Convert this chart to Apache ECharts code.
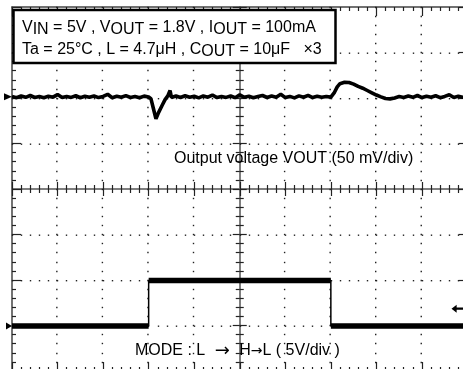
<!DOCTYPE html>
<html>
<head>
<meta charset="utf-8">
<script src="https://cdn.jsdelivr.net/npm/echarts@6/dist/echarts.min.js"></script>
<style>
  html, body { margin: 0; padding: 0; background: #fff; }
  #scope { width: 463px; height: 369px; }
</style>
</head>
<body>
<div id="scope"></div>
<script>
// Screen: 10 horizontal divisions (-5..5), 8 vertical divisions (-4..4)
const CH1_POS = 2.025;   // VOUT ground marker, div
const CH1_SCALE = 50;    // mV/div
const CH2_POS = -3.01;   // MODE ground marker, div
const CH2_SCALE = 5;     // V/div
const TRIG_LEVEL = 1.9;  // trigger level on MODE, V

// Output voltage deviation (mV) against time (div)
const voutTime = [
  -5.0, -4.9, -4.8, -4.7, -4.6, -4.5, -4.4, -4.3, -4.2, -4.1,
  -4.0, -3.9, -3.8, -3.7, -3.6, -3.5, -3.4, -3.3, -3.2, -3.1,
  -3.0, -2.9, -2.8, -2.7, -2.6, -2.5, -2.4, -2.3, -2.2, -2.1,
  -2.0, -1.95, -1.9, -1.84, -1.78, -1.7, -1.64, -1.58, -1.53, -1.5,
  -1.4, -1.3, -1.2, -1.1, -1.0, -0.9, -0.8, -0.7, -0.6, -0.5,
  -0.4, -0.3, -0.2, -0.1, 0.0, 0.1, 0.2, 0.3, 0.4, 0.5,
  0.6, 0.7, 0.8, 0.9, 1.0, 1.1, 1.2, 1.3, 1.4, 1.5,
  1.6, 1.7, 1.8, 1.9, 2.0, 2.02, 2.08, 2.14, 2.2, 2.3,
  2.4, 2.5, 2.6, 2.7, 2.8, 2.9, 3.0, 3.1, 3.2, 3.3,
  3.4, 3.5, 3.6, 3.7, 3.8, 3.9, 4.0, 4.1, 4.2, 4.3,
  4.4, 4.5, 4.6, 4.7, 4.8, 4.9, 5.0
];
const voutMv = [
  0.3, -0.9, 1.0, -0.5, 1.5, -0.7, 0.4, -1.0, 0.8, -0.3,
  2.5, -0.8, 0.5, -0.6, 1.2, -1.0, 0.7, -0.4, 1.0, -0.8,
  0.5, 2.8, -0.9, 0.7, -0.5, 1.3, -0.7, 0.4, -1.0, 0.8,
  -0.2, -2.0, -12.0, -24.0, -17.0, -9.0, -3.0, 1.0, 7.0, -0.6,
  0.9, -0.7, 1.2, -0.4, 0.6, -1.1, 1.0, -0.3, 2.0, -0.8,
  0.5, -0.6, 1.0, -0.9, 2.2, -0.5, 0.7, -1.0, 0.4, 1.5,
  -0.7, 0.9, -0.4, 2.8, -0.8, 0.5, -1.1, 1.1, -0.4, 1.6,
  -0.8, 0.6, -0.5, 0.4, -0.3, 0.0, 5.0, 11.0, 14.5, 16.0,
  15.8, 14.0, 11.5, 9.5, 7.0, 4.5, 2.0, 0.0, -1.8, -2.2,
  -1.2, 0.3, -0.6, 0.9, -0.5, 1.5, -0.8, 0.7, -0.4, 1.2,
  -0.9, 0.5, 2.3, -0.7, 0.8, -0.4, 0.6
];

// MODE control signal (V) against time (div)
const modeTime = [-5, -2, -2, 2, 2, 5];
const modeVolt = [0, 0, 5, 5, 0, 0];

const voutData = voutTime.map((t, i) => [t, CH1_POS + voutMv[i] / CH1_SCALE]);
const modeData = modeTime.map((t, i) => [t, CH2_POS + modeVolt[i] / CH2_SCALE]);
// horizontal levels only (edges are drawn thin by the full trace)
const modeLevels = [];
modeData.forEach((p, i) => {
  if (i > 0 && modeTime[i] === modeTime[i - 1]) modeLevels.push([p[0], '-']);
  modeLevels.push(p);
});

const FONT = "'Liberation Sans', Arial, sans-serif";
const ARROW_FONT = "'DejaVu Sans', sans-serif";
const DIV_X = 45.55;   // px per horizontal division
const DIV_Y = 45.5;    // px per vertical division

function tickStyle() { return { color: '#222', width: 1.2 }; }
// border and centre scales with major/minor ticks
function axisBase(dimMin, dimMax, position, onZero, inside, len, minorLen, lineColor) {
  return {
    type: 'value', min: dimMin, max: dimMax, interval: 1, position: position,
    axisLine: { show: true, onZero: onZero, onZeroAxisIndex: 0, lineStyle: { color: lineColor, width: 1.5 } },
    axisTick: { show: true, inside: inside, length: len, lineStyle: tickStyle() },
    minorTick: { show: true, splitNumber: 5, length: minorLen, lineStyle: tickStyle() },
    axisLabel: { show: false },
    splitLine: { show: false }
  };
}
// one dotted graticule line: an unlined axis whose ticks are single dots every 0.2 div
function dotAxis(dimMin, dimMax, position, offset) {
  const dot = { color: '#222', width: 1.4 };
  return {
    type: 'value', min: dimMin, max: dimMax, interval: 1, position: position, offset: offset,
    axisLine: { show: false, onZero: false },
    axisTick: { show: true, inside: false, length: 1.4, lineStyle: dot },
    minorTick: { show: true, splitNumber: 5, length: 1.4, lineStyle: dot },
    axisLabel: { show: false },
    splitLine: { show: false }
  };
}
// rows counted up from the bottom border, columns counted right from the left border
const rowDots = [1, 2, 3, 5, 6, 7].map(k => dotAxis(-5, 5, 'bottom', -DIV_Y * k));
const colDots = [1, 2, 3, 4, 6, 7, 8, 9].map(k => dotAxis(-4, 4, 'left', -DIV_X * k));

const chart = echarts.init(document.getElementById('scope'), null, { renderer: 'canvas' });
chart.setOption({
  animation: false,
  backgroundColor: '#fff',
  grid: { left: 12, top: 7, width: 455.5, height: 364, outerBoundsMode: 'none' },
  xAxis: [
    axisBase(-5, 5, 'bottom', false, true, 9, 4, '#444'),
    axisBase(-5, 5, 'top', false, true, 9, 4, '#444'),
    axisBase(-5, 5, 'bottom', true, true, 7, 4, '#777'),
    axisBase(-5, 5, 'bottom', true, false, 7, 4, '#777')
  ].concat(rowDots),
  yAxis: [
    axisBase(-4, 4, 'left', false, true, 9, 4, '#444'),
    axisBase(-4, 4, 'right', false, true, 9, 4, '#444'),
    axisBase(-4, 4, 'left', true, true, 7, 4, '#777'),
    axisBase(-4, 4, 'left', true, false, 7, 4, '#777')
  ].concat(colDots),
  series: [
    {
      name: 'VOUT', type: 'line', data: voutData, symbol: 'none', z: 5,
      lineStyle: { color: '#000', width: 3.6 },
      markPoint: {
        symbol: 'triangle', symbolRotate: -90, symbolSize: [7, 8], symbolOffset: [-4, 0],
        itemStyle: { color: '#000' }, label: { show: false },
        data: [{ coord: [-5, CH1_POS] }]
      }
    },
    {
      name: 'MODE', type: 'line', data: modeData, symbol: 'none', z: 5,
      lineStyle: { color: '#000', width: 1.5 },
      markPoint: {
        symbol: 'triangle', symbolRotate: -90, symbolSize: [7, 6], symbolOffset: [-3, 0],
        itemStyle: { color: '#000' }, label: { show: false },
        data: [{ coord: [-5, CH2_POS] }]
      }
    },
    {
      name: 'MODE level', type: 'line', data: modeLevels, symbol: 'none', z: 5,
      connectNulls: false,
      lineStyle: { color: '#000', width: 5.5 },
      markPoint: {
        symbol: 'path://M0,5 L6,0 L6,3.5 L14,3.5 L14,6.5 L6,6.5 L6,10 Z',
        symbolSize: [12, 8], symbolOffset: [-10, 0],
        itemStyle: { color: '#000' }, label: { show: false },
        data: [{ coord: [5, CH2_POS + TRIG_LEVEL / CH2_SCALE] }]
      }
    }
  ],
  graphic: [
    {
      type: 'rect', z: 20,
      shape: { x: 13.5, y: 10, width: 322, height: 53 },
      style: { fill: '#fff', stroke: '#000', lineWidth: 2.5 }
    },
    {
      type: 'text', z: 21, x: 22, y: 18,
      style: {
        text: 'V{s|IN} = 5V , V{s|OUT} = 1.8V , I{s|OUT} = 100mA',
        fontSize: 16, fontFamily: FONT, fill: '#000',
        rich: { s: { fontSize: 16, fontFamily: FONT, fill: '#000', padding: [4, 0, 0, 0] } }
      }
    },
    {
      type: 'text', z: 21, x: 22, y: 40,
      style: {
        text: 'Ta = 25°C , L = 4.7μH , C{s|OUT} = 10μF   ×3',
        fontSize: 16, fontFamily: FONT, fill: '#000',
        rich: { s: { fontSize: 16, fontFamily: FONT, fill: '#000', padding: [4, 0, 0, 0] } }
      }
    },
    {
      type: 'text', z: 21, x: 174, y: 151,
      style: { text: 'Output voltage VOUT (50 mV/div)', fontSize: 16, fontFamily: FONT, fill: '#000' }
    },
    {
      type: 'text', z: 21, x: 135, y: 342,
      style: {
        text: 'MODE : L {a|→} H{b|→}L ( 5V/div )', fontSize: 16, fontFamily: FONT, fill: '#000',
        rich: {
          a: { fontSize: 18, fontFamily: ARROW_FONT, fill: '#000', padding: [0, 5, 0, 5] },
          b: { fontSize: 14, fontFamily: ARROW_FONT, fill: '#000' }
        }
      }
    }
  ]
});
</script>
</body>
</html>
